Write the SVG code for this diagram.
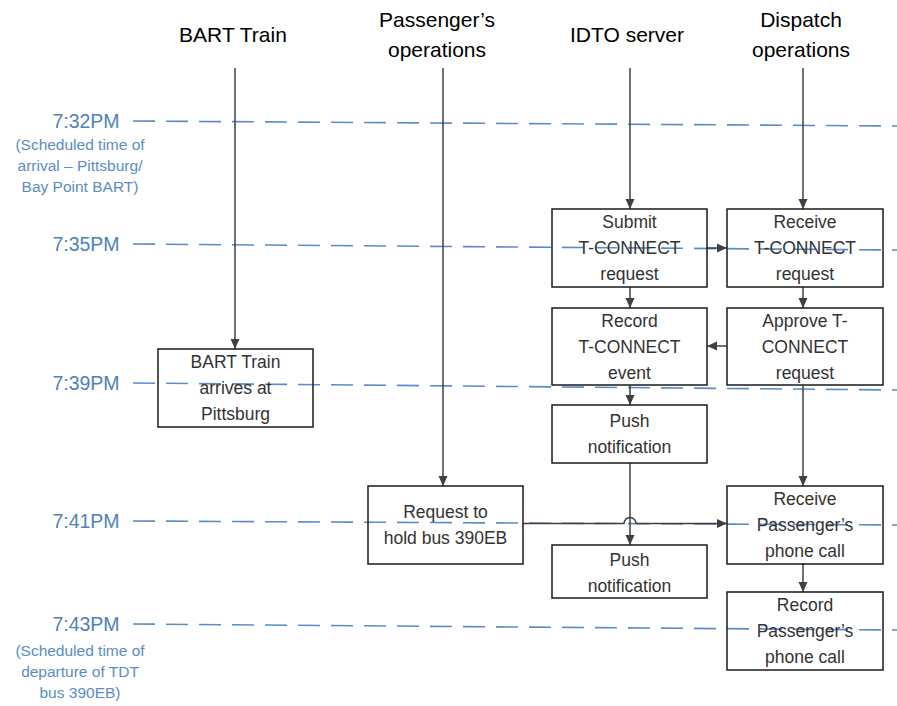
<svg xmlns="http://www.w3.org/2000/svg" width="897" height="706" viewBox="0 0 897 706">
<defs>
<marker id="arr" viewBox="0 0 10 10" refX="10" refY="5" markerWidth="10" markerHeight="10" markerUnits="userSpaceOnUse" orient="auto">
<path d="M0,0.5 L10,5 L0,9.5 z" fill="#404040"/>
</marker>
<style>
.hdr{font-family:"Liberation Sans",Arial,sans-serif;font-size:21px;fill:#000;text-anchor:middle}
.time{font-family:"Liberation Sans",Arial,sans-serif;font-size:19.5px;fill:#4f81bd;text-anchor:middle}
.note{font-family:"Liberation Sans",Arial,sans-serif;font-size:15.5px;fill:#5b8cc8;text-anchor:middle}
.box rect{fill:none;stroke:#1a1a1a;stroke-width:1.5}
.box text{font-family:"Liberation Sans",Arial,sans-serif;font-size:17.5px;fill:#333;text-anchor:middle}
.dash{fill:none;stroke:#5b8cc8;stroke-width:1.6;stroke-dasharray:22 11}
.con{fill:none;stroke:#404040;stroke-width:1.5}
</style>
</defs>
<rect width="897" height="706" fill="#fff"/>
<g id="headers">
<text class="hdr" x="233" y="42">BART Train</text>
<text class="hdr" x="437" y="27">Passenger’s</text>
<text class="hdr" x="437" y="57">operations</text>
<text class="hdr" x="627" y="42">IDTO server</text>
<text class="hdr" x="801" y="27">Dispatch</text>
<text class="hdr" x="801" y="57">operations</text>
</g>
<g id="timeline">
<text class="time" x="86" y="128">7:32PM</text>
<text class="note" x="80" y="150">(Scheduled time of</text>
<text class="note" x="80" y="171">arrival – Pittsburg/</text>
<text class="note" x="80" y="192">Bay Point BART)</text>
<text class="time" x="86" y="251">7:35PM</text>
<text class="time" x="86" y="390">7:39PM</text>
<text class="time" x="86" y="528">7:41PM</text>
<text class="time" x="86" y="631">7:43PM</text>
<text class="note" x="80" y="656">(Scheduled time of</text>
<text class="note" x="80" y="677">departure of TDT</text>
<text class="note" x="80" y="698">bus 390EB)</text>
<path class="dash" d="M133 121 L897 126"/>
<path class="dash" d="M133 244 L897 250"/>
<path class="dash" d="M133 383 L897 390"/>
<path class="dash" d="M133 521 L897 525"/>
<path class="dash" d="M133 624 L897 630"/>
</g>
<g id="connectors">
<path class="con" d="M235 68 L235 349" marker-end="url(#arr)"/>
<path class="con" d="M443 68 L443 486" marker-end="url(#arr)"/>
<path class="con" d="M630 68 L630 209" marker-end="url(#arr)"/>
<path class="con" d="M803 68 L803 209" marker-end="url(#arr)"/>
<path class="con" d="M707 248 L727 248" marker-end="url(#arr)"/>
<path class="con" d="M630 287 L630 308" marker-end="url(#arr)"/>
<path class="con" d="M803 287 L803 308" marker-end="url(#arr)"/>
<path class="con" d="M727 346 L707 346" marker-end="url(#arr)"/>
<path class="con" d="M630 385 L630 405" marker-end="url(#arr)"/>
<path class="con" d="M630 463 L630 545" marker-end="url(#arr)"/>
<path class="con" d="M803 385 L803 486" marker-end="url(#arr)"/>
<path class="con" d="M523 523.5 L624 523.5 A6 6 0 0 1 636 523.5 L727 523.5" marker-end="url(#arr)"/>
<path class="con" d="M803 563 L803 592" marker-end="url(#arr)"/>
</g>
<g id="bart-arrives" class="box">
<rect x="158" y="349" width="155" height="78"/>
<text x="235.5" y="368">BART Train</text>
<text x="235.5" y="394">arrives at</text>
<text x="235.5" y="420">Pittsburg</text>
</g>
<g id="submit" class="box">
<rect x="552" y="209" width="155" height="78"/>
<text x="629.5" y="228">Submit</text>
<text x="629.5" y="254">T-CONNECT</text>
<text x="629.5" y="280">request</text>
</g>
<g id="receive" class="box">
<rect x="727" y="209" width="156" height="78"/>
<text x="805" y="228">Receive</text>
<text x="805" y="254">T-CONNECT</text>
<text x="805" y="280">request</text>
</g>
<g id="record-event" class="box">
<rect x="552" y="308" width="155" height="77"/>
<text x="629.5" y="327">Record</text>
<text x="629.5" y="353">T-CONNECT</text>
<text x="629.5" y="379">event</text>
</g>
<g id="approve" class="box">
<rect x="727" y="308" width="156" height="77"/>
<text x="805" y="327">Approve T-</text>
<text x="805" y="353">CONNECT</text>
<text x="805" y="379">request</text>
</g>
<g id="push1" class="box">
<rect x="552" y="405" width="155" height="58"/>
<text x="629.5" y="427">Push</text>
<text x="629.5" y="453">notification</text>
</g>
<g id="request-hold" class="box">
<rect x="368" y="486" width="155" height="78"/>
<text x="445.5" y="518">Request to</text>
<text x="445.5" y="544">hold bus 390EB</text>
</g>
<g id="push2" class="box">
<rect x="552" y="545" width="155" height="53"/>
<text x="629.5" y="566">Push</text>
<text x="629.5" y="592">notification</text>
</g>
<g id="receive-call" class="box">
<rect x="727" y="486" width="156" height="78"/>
<text x="805" y="505">Receive</text>
<text x="805" y="531">Passenger’s</text>
<text x="805" y="557">phone call</text>
</g>
<g id="record-call" class="box">
<rect x="727" y="592" width="156" height="78"/>
<text x="805" y="611">Record</text>
<text x="805" y="637">Passenger’s</text>
<text x="805" y="663">phone call</text>
</g>
</svg>
